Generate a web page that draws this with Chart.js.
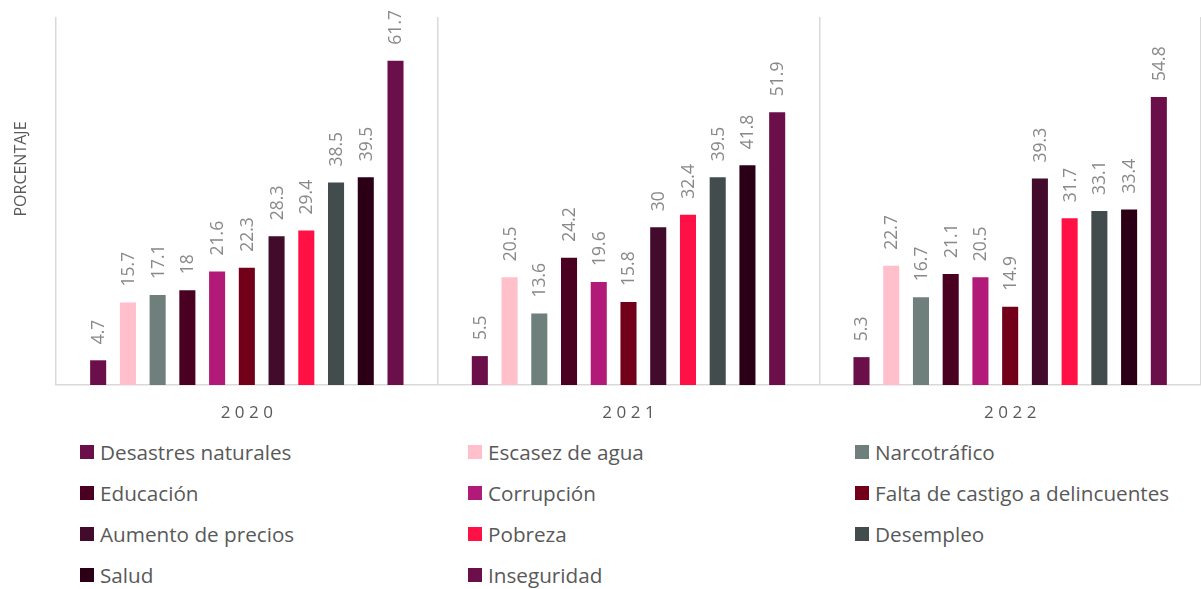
<!DOCTYPE html>
<html>
<head>
<meta charset="utf-8">
<script src="https://cdn.jsdelivr.net/npm/chart.js@4/dist/chart.umd.min.js"></script>
<style>
  html, body { margin: 0; padding: 0; background: #fff; }
  #wrap { position: relative; width: 1201px; height: 589px; overflow: hidden; font-family: "Open Sans", Lato, sans-serif; }
  #chartBox { position: absolute; left: 0; top: 0; width: 1201px; height: 430px; }
  #legend { position: absolute; left: 0; top: 432px; width: 1201px; height: 157px; }
  .li { position: absolute; height: 28px; display: flex; align-items: center; color: #595959; font-size: 20.7px; white-space: nowrap; }
  .li span.box { display: inline-block; width: 14px; height: 14px; margin-right: 6px; }
</style>
</head>
<body>
<div id="wrap">
  <div id="chartBox"><canvas id="c" width="1201" height="430"></canvas></div>
  <div id="legend"></div>
</div>
<script>
const years = ['2020', '2021', '2022'];
const topics = ['Desastres naturales', 'Escasez de agua', 'Narcotráfico', 'Educación', 'Corrupción',
  'Falta de castigo a delincuentes', 'Aumento de precios', 'Pobreza', 'Desempleo', 'Salud', 'Inseguridad'];
const colors = ['#6B0F4A', '#FFC0CB', '#6E7F7C', '#4A0020', '#B21A7A', '#720019', '#420B2C', '#FF1146', '#424C4C', '#2B0016', '#6B0F4A'];
const desastres = [4.7, 5.5, 5.3];
const escasez = [15.7, 20.5, 22.7];
const narcotrafico = [17.1, 13.6, 16.7];
const educacion = [18, 24.2, 21.1];
const corrupcion = [21.6, 19.6, 20.5];
const faltaCastigo = [22.3, 15.8, 14.9];
const aumentoPrecios = [28.3, 30, 39.3];
const pobreza = [29.4, 32.4, 31.7];
const desempleo = [38.5, 39.5, 33.1];
const salud = [39.5, 41.8, 33.4];
const inseguridad = [61.7, 51.9, 54.8];
const series = [desastres, escasez, narcotrafico, educacion, corrupcion, faltaCastigo, aumentoPrecios, pobreza, desempleo, salud, inseguridad];
const yTitle = 'PORCENTAJE';

const FONT = '"Open Sans", Lato, sans-serif';

const labelPlugin = {
  id: 'labels',
  afterDatasetsDraw(chart) {
    const ctx = chart.ctx;
    ctx.save();
    ctx.font = '17.5px ' + FONT;
    ctx.fillStyle = '#898989';
    ctx.textAlign = 'left';
    ctx.textBaseline = 'middle';
    chart.data.datasets.forEach((ds, i) => {
      const meta = chart.getDatasetMeta(i);
      meta.data.forEach((el, j) => {
        ctx.save();
        ctx.translate(el.x, el.y - 16);
        ctx.rotate(-Math.PI / 2);
        ctx.fillText(String(ds.data[j]), 0, 1);
        ctx.restore();
      });
    });
    ctx.restore();
  },
  afterDraw(chart) {
    const ctx = chart.ctx;
    const xs = chart.scales.x;
    ctx.save();
    ctx.font = '17px ' + FONT;
    ctx.fillStyle = '#595959';
    ctx.textBaseline = 'middle';
    ctx.textAlign = 'left';
    try { ctx.letterSpacing = '4.5px'; } catch (e) {}
    chart.data.labels.forEach((lab, i) => {
      const x = xs.getPixelForValue(i);
      const w = ctx.measureText(lab).width - 4.5;
      ctx.fillText(lab, x - w / 2, 413);
    });
    try { ctx.letterSpacing = '0px'; } catch (e) {}
    // y title
    ctx.translate(21, 169);
    ctx.rotate(-Math.PI / 2);
    ctx.textAlign = 'center';
    ctx.font = '16px ' + FONT;
    ctx.fillText(yTitle, 0, 0);
    ctx.restore();
  }
};

const chart = new Chart(document.getElementById('c'), {
  type: 'bar',
  data: {
    labels: years,
    datasets: topics.map((t, i) => ({
      label: t,
      data: series[i],
      backgroundColor: colors[i],
      borderWidth: 0,
      categoryPercentage: 0.857,
      barPercentage: 0.54
    }))
  },
  options: {
    responsive: false,
    animation: false,
    layout: { padding: { top: 17, left: 0, right: 0, bottom: 0 } },
    plugins: { legend: { display: false }, tooltip: { enabled: false } },
    scales: {
      x: {
        offset: true,
        grid: { display: true, offset: true, color: '#d9d9d9', lineWidth: 1.5, drawTicks: false },
        border: { display: true, color: '#d9d9d9', width: 1.5 },
        ticks: { display: false },
        afterFit(scale) { scale.height = 45; }
      },
      y: {
        min: 0, max: 70,
        grid: { display: false },
        border: { display: false },
        ticks: { display: false },
        afterFit(scale) { scale.width = 56; }
      }
    }
  },
  plugins: [labelPlugin]
});

// HTML legend, 3 columns, built from the chart datasets
const legend = document.getElementById('legend');
const colX = [80, 468, 855];
const rowY = [452, 493, 534, 575];
chart.data.datasets.forEach((ds, i) => {
  const d = document.createElement('div');
  d.className = 'li';
  d.style.left = colX[i % 3] + 'px';
  d.style.top = (rowY[Math.floor(i / 3)] - 432 - 14) + 'px';
  const b = document.createElement('span');
  b.className = 'box';
  b.style.background = ds.backgroundColor;
  const t = document.createElement('span');
  t.textContent = ds.label;
  d.appendChild(b); d.appendChild(t);
  legend.appendChild(d);
});
</script>
</body>
</html>
